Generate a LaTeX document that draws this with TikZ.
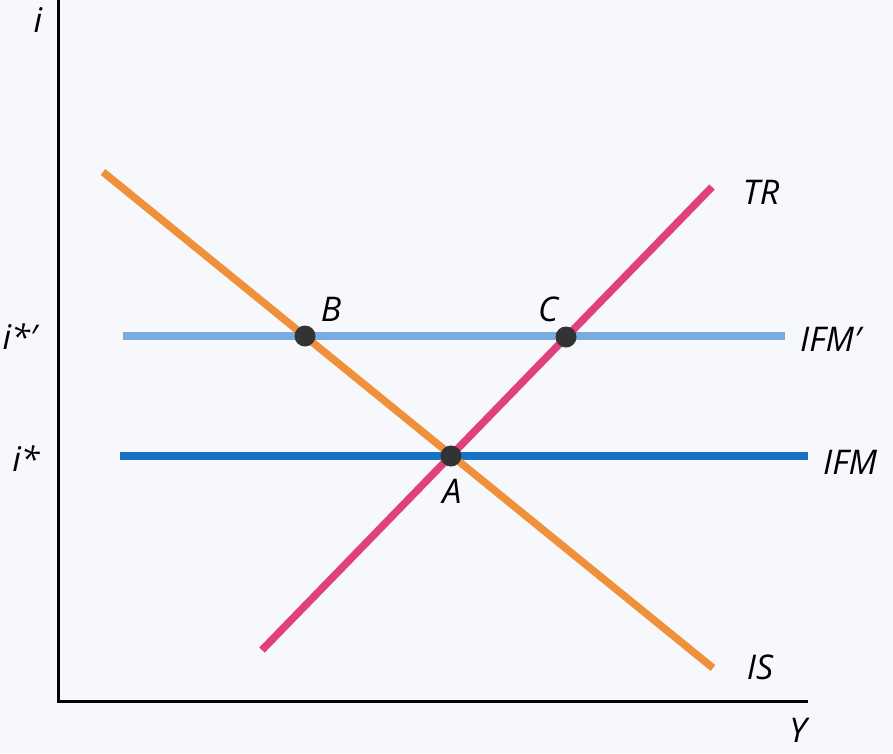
\documentclass[tikz,border=0pt]{standalone}
\usepackage{fontspec}
\setmainfont{Open Sans}
\begin{document}
\begin{tikzpicture}[x=1pt,y=-1pt,
  axis/.style={line width=3pt,black},
  curve/.style={line width=7.5pt},
  pt/.style={circle,fill=dotgray,minimum size=21pt,inner sep=0pt},
  lbl/.style={font=\fontsize{34}{36}\selectfont\itshape,text=black,inner sep=0pt}]
\definecolor{bgc}{HTML}{F6F8FC}
\definecolor{orangec}{HTML}{F0903A}
\definecolor{magc}{HTML}{E0407E}
\definecolor{bluec}{HTML}{1A72C4}
\definecolor{lbluec}{HTML}{7AAADE}
\definecolor{dotgray}{HTML}{333333}
\fill[bgc] (0,0) rectangle (893,753);
\useasboundingbox (0,0) rectangle (893,753);
% axes
\coordinate (ytop) at (58,0);
\coordinate (orig) at (58,701);
\coordinate (xend) at (808,701);
\draw[axis] (ytop) -- (orig) -- (xend);
% curves
\coordinate (ifmpL) at (123,336);
\coordinate (ifmpR) at (785,336);
\coordinate (ifmL) at (120,456);
\coordinate (ifmR) at (808,456);
\coordinate (isT) at (103,172);
\coordinate (isB) at (713,668);
\coordinate (trB) at (262,650);
\coordinate (trT) at (712,187);
\draw[curve,lbluec] (ifmpL) -- (ifmpR);
\draw[curve,bluec] (ifmL) -- (ifmR);
\draw[curve,orangec] (isT) -- (isB);
\draw[curve,magc] (trB) -- (trT);
% points
\node[pt] (B) at (305,336) {};
\node[pt] (C) at (566,337) {};
\node[pt] (A) at (451,456) {};
% labels
\node[lbl] (lB) at (331,309) {B};
\node[lbl] (lC) at (548,309) {C};
\node[lbl] (lA) at (452,491) {A};
\node[lbl] (lTR) at (761,192) {TR};
\node[lbl,anchor=west] (lIFMp) at (800,339) {IFM′};
\node[lbl,anchor=west] (lIFM) at (823,462) {IFM};
\node[lbl] (lIS) at (760,667) {IS};
\node[lbl] (lY) at (798,730) {Y};
\node[lbl] (li) at (38,20) {i};
\node[lbl] (lisp) at (20,337) {i*′};
\node[lbl] (lis) at (26,459) {i*};
\end{tikzpicture}
\end{document}
